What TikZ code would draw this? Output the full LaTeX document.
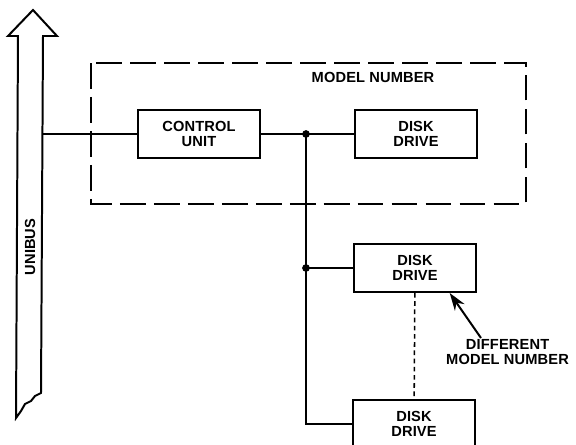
\documentclass[tikz,border=0pt]{standalone}
\usepackage{fontspec}
\setmainfont{Liberation Sans}[LetterSpace=1]
\usetikzlibrary{arrows.meta,calc}
\begin{document}
\begin{tikzpicture}[x=0.03cm,y=-0.03cm,
    every text node part/.style={align=center},
    every node/.style={font=\fontsize{12.5}{13}\selectfont\bfseries},
    unitbox/.style={draw, line width=1.7pt, minimum width=3.66cm, minimum height=1.44cm, inner sep=0pt},
    wire/.style={line width=1.7pt}]
    \clip (0,0) rectangle (576,445);

    % the bus arrow
    \draw [wire, line join=miter] (16,418) -- (18,36) -- (8,36) -- (33,10) -- (57,36) -- (43,36) -- (41,393)
      -- (35,396) -- (31,401) -- (25,404) -- (21,411) -- cycle;
    \node [rotate=90] (UbBus) at (30,247) {UNIBUS};
    \coordinate (UbPort) at (42,134);

    % dashed group
    \draw [wire, dash pattern=on 22pt off 7pt] (91,63) rectangle (526,204);
    \node (UbModel) at (373,77) {MODEL NUMBER};

    \node [unitbox] (UbCtl) at (199,134) {CONTROL\\UNIT};
    \node [unitbox] (UbDsk1) at (416,134) {DISK\\DRIVE};
    \node [unitbox] (UbDsk2) at (415,268) {DISK\\DRIVE};
    \node [unitbox] (UbDsk3) at (414,424) {DISK\\DRIVE};

    \node [anchor=north west, inner sep=0pt, align=left] (UbDiff) at (446,339) {DIFFERENT\\MODEL NUMBER};

    \coordinate (UbJa) at (306,134);
    \coordinate (UbJb) at (306,268);

    \draw [wire] (UbPort) to (UbCtl);
    \draw [wire] (UbCtl) to (UbDsk1);
    \draw [wire] (UbJa) -- (UbJa |- UbDsk3) -- (UbDsk3);
    \draw [wire] (UbJb) to (UbDsk2);
    \fill (UbJa) circle (3.3pt);
    \fill (UbJb) circle (3.3pt);

    \draw [line width=1.3pt, dash pattern=on 4pt off 3pt] (UbDsk2) to (UbDsk3);
    \draw [wire, -{Stealth[length=15pt,width=10pt]}] ($(UbDiff.north west)+(35,-1)$) to ($(UbDsk2.south east)!0.22!(UbDsk2.south west)$);
  \end{tikzpicture}
\end{document}
